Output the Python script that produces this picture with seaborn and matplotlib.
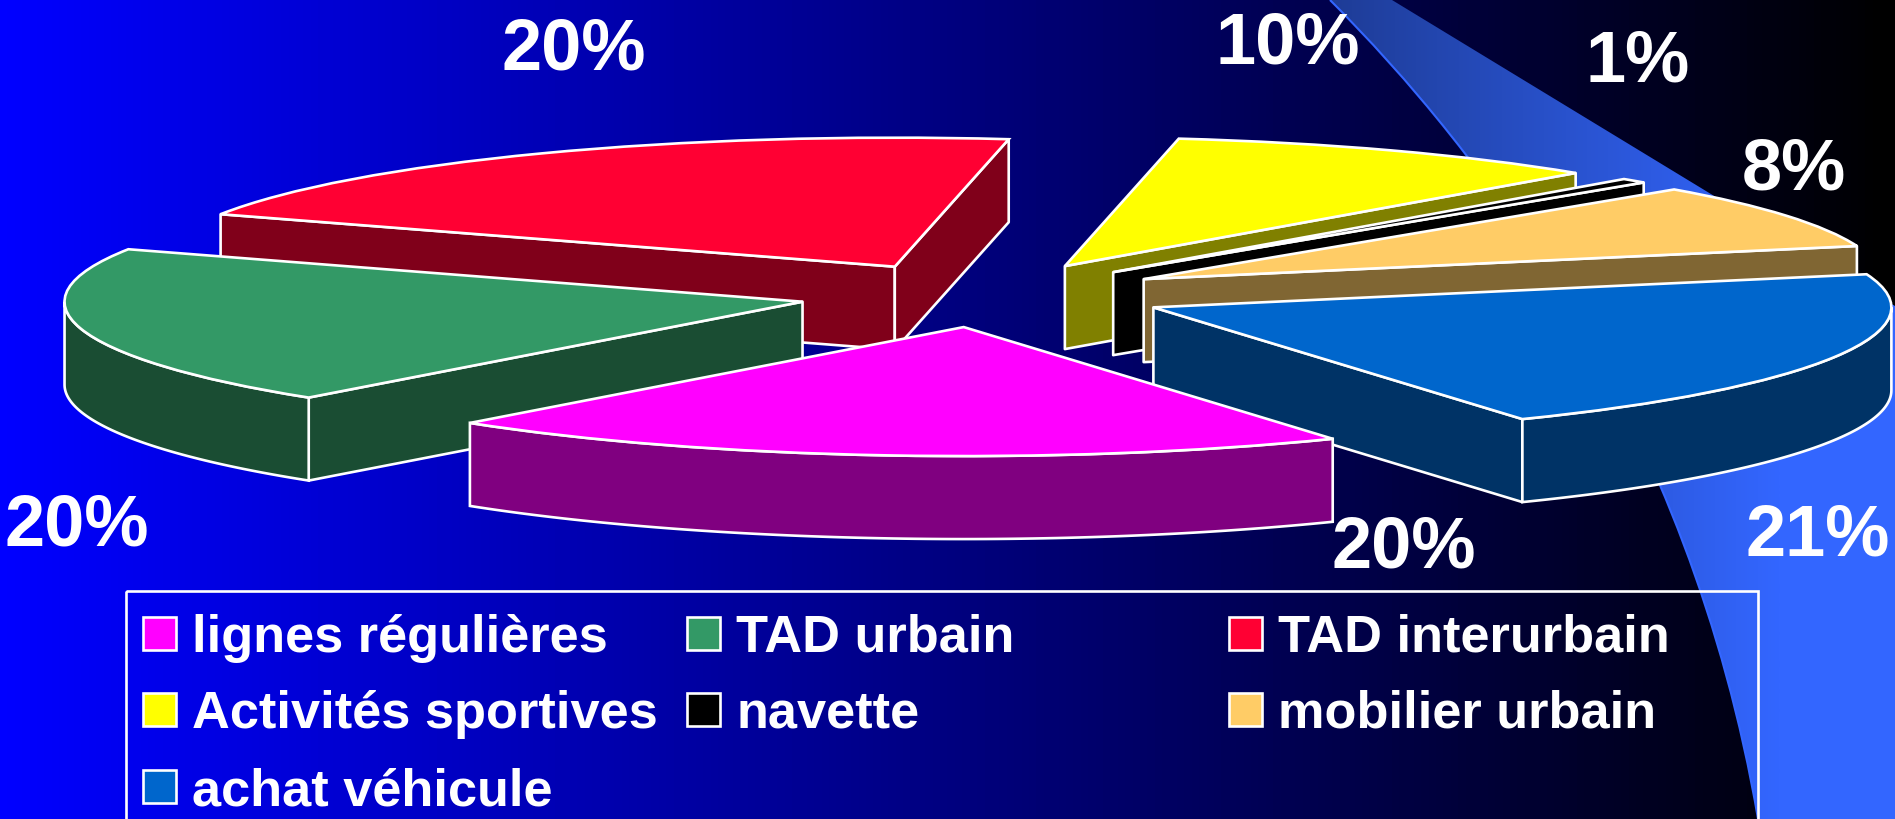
import numpy as np
import matplotlib.pyplot as plt
import matplotlib.patches as mpatches
from matplotlib.path import Path
import seaborn as sns

# Donnees du camembert
categories = ["lignes régulières", "TAD urbain", "TAD interurbain",
              "Activités sportives", "navette", "mobilier urbain", "achat véhicule"]
# parts (angles des secteurs)
shares = [20.0, 20.0, 20.8, 9.7, 0.6, 8.1, 20.8]
# pourcentages imprimes sur l'image
labels = [20, 20, 20, 10, 1, 8, 21]
colors = ["#FF00FF", "#339966", "#FF0033", "#FFFF00", "#000000", "#FFCC66", "#0066CC"]

# Mise en page, en pixels de l'image
W, H = 1895, 819
CX, CY = 983, 295
RX, RY = 738, 129
DEPTH = 83 / RY
EXPLODE = 0.25
START = 300
LW = 1.9
draw_order = [2, 3, 4, 5, 1, 6, 0]
label_pos = [(1404, 549), (77, 527), (574, 50), (1288, 44), (1638, 62), (1794, 171), (1818, 537)]
legend_rows = [652, 728, 805]
legend_cols = [143, 687, 1229]
legend_cells = [(0, 0), (1, 0), (2, 0), (0, 1), (1, 1), (2, 1), (0, 2)]

sns.set_theme(style="white")
plt.rcParams['font.family'] = ['Liberation Sans', 'DejaVu Sans']
palette = sns.color_palette(colors)
dark = [tuple(c * 0.5 for c in col) for col in palette]

fig = plt.figure(figsize=(W / 100, H / 100), dpi=100)

# Fond en degrade
bg = fig.add_axes([0, 0, 1, 1], zorder=0)
bg.set_axis_off()
bg_cmap = sns.blend_palette(["#0000FF", "#000000"], as_cmap=True)
bg.imshow(np.linspace(0, 1, 512).reshape(1, -1), cmap=bg_cmap, aspect="auto", extent=(0, W, H, 0))

# Bande claire a droite
swoosh = Path([(1330, 0), (1480, 150), (1690, 420), (1758, 819), (W, 819), (W, 306), (1392, 0), (1330, 0)],
              [Path.MOVETO, Path.CURVE4, Path.CURVE4, Path.CURVE4, Path.LINETO, Path.LINETO, Path.LINETO, Path.CLOSEPOLY])
sw_cmap = sns.blend_palette(["#1E3C96", "#3366FF"], as_cmap=True)
sw_img = bg.imshow(np.linspace(0, 1, 256).reshape(1, -1), cmap=sw_cmap, aspect="auto", extent=(1330, 1780, H, 0))
sw_img.set_clip_path(mpatches.PathPatch(swoosh, transform=bg.transData))
bg.fill_between([1780, W], 0, H, color="#3366FF", lw=0, clip_path=mpatches.PathPatch(swoosh, transform=bg.transData))
edge = Path([(1330, 0), (1480, 150), (1690, 420), (1758, 819)], [Path.MOVETO, Path.CURVE4, Path.CURVE4, Path.CURVE4])
bg.add_patch(mpatches.PathPatch(edge, fill=False, edgecolor="#3366FF", lw=1.5))
bg.set_xlim(0, W)
bg.set_ylim(H, 0)

# Camembert : rayon 1 sur une axe etiree pour obtenir l'ellipse
ax = fig.add_axes([0, 0, 1, 1], zorder=1)
wedges, _ = ax.pie(shares, explode=[EXPLODE] * len(shares), startangle=START, counterclock=False,
                   colors=palette, radius=1, wedgeprops=dict(edgecolor="white", linewidth=LW))
ax.set_xlim(-CX / RX, (W - CX) / RX)
ax.set_ylim((CY - H) / RY, CY / RY)
ax.set_aspect("auto")
ax.patch.set_alpha(0)


def draw_wall(x0, y0, t, color, z):
    px = x0 + np.cos(np.radians(t))
    py = y0 + np.sin(np.radians(t))
    ax.fill([x0, px, px, x0], [y0, py, py - DEPTH, y0 - DEPTH], facecolor=color,
            edgecolor="white", linewidth=LW, zorder=z, joinstyle="round")


for rank, i in enumerate(draw_order):
    w = wedges[i]
    x0, y0 = w.center
    t1, t2 = w.theta1, w.theta2
    z = 10 + rank * 5
    # parois radiales tournees vers nous
    if np.cos(np.radians(t2)) < 0:
        draw_wall(x0, y0, t2, dark[i], z)
    if np.cos(np.radians(t1)) > 0:
        draw_wall(x0, y0, t1, dark[i], z)
    # bord exterieur, partie avant seulement
    for shift in (360, 0, -360):
        a = max(t1, 180 + shift)
        b = min(t2, 360 + shift)
        if b > a:
            th = np.radians(np.linspace(a, b, 80))
            xs = x0 + np.cos(th)
            ys = y0 + np.sin(th)
            ax.fill(np.r_[xs, xs[::-1]], np.r_[ys, ys[::-1] - DEPTH], facecolor=dark[i],
                    edgecolor="white", linewidth=LW, zorder=z + 1)
    w.set_zorder(z + 2)

# Textes et legende, en pixels
top = fig.add_axes([0, 0, 1, 1], zorder=2)
top.set_axis_off()
top.set_xlim(0, W)
top.set_ylim(H, 0)

for v, (x, y) in zip(labels, label_pos):
    top.text(x, y, f"{v}%", color="white", fontsize=52, fontweight="bold", ha="center", va="center")

top.add_patch(mpatches.Rectangle((126, 591), 1632, 300, fill=False, edgecolor="white", linewidth=LW))
for name, col, (c, r) in zip(categories, palette, legend_cells):
    base = legend_rows[r]
    top.add_patch(mpatches.Rectangle((legend_cols[c], base - 35), 33, 33, facecolor=col,
                                     edgecolor="white", linewidth=LW))
    top.text(legend_cols[c] + 49, base, name, color="white", fontsize=37.7, fontweight="bold",
             ha="left", va="baseline")

fig.savefig("out.png", dpi=100)
